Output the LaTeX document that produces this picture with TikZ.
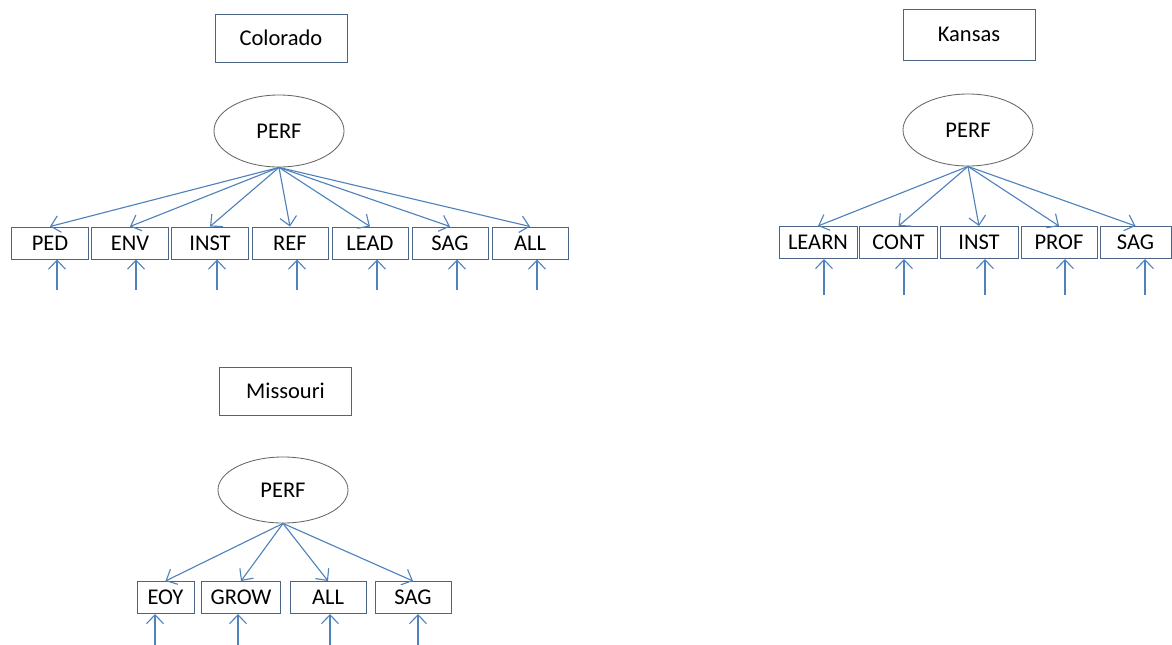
\documentclass[tikz,border=0pt]{standalone}
\usepackage{fontspec}
\setmainfont{Carlito}
\usetikzlibrary{positioning,shapes,arrows.meta}
\definecolor{arrowblue}{HTML}{4F81BD}
\definecolor{boxline}{HTML}{4A6585}

\begin{document}
\begin{tikzpicture}[x=0.025cm,y=-0.025cm,
                     font=\fontsize{16}{19}\selectfont,
                     title node/.style={rectangle,draw=boxline,line width=0.6pt,minimum width=3.3cm,minimum height=1.2cm},
                     perf node/.style={ellipse,draw=black!60,line width=0.6pt,minimum width=3.25cm,minimum height=1.8cm},
                     obs node/.style={rectangle,draw=boxline,line width=0.7pt,minimum width=1.9cm,minimum height=0.8cm,inner sep=1pt},
                     load/.style={draw=arrowblue,line width=0.8pt,-{Straight Barb[length=0.22cm,width=0.42cm]}}
                    ]
   \useasboundingbox (0,0) rectangle (1172,645);
   % Colorado
   \node[title node] (cotitle) at (281,38) {Colorado};
   \node[perf node] (coperf) at (279,131) {PERF};
   \node[obs node] (coped) at (50,243) {PED};
   \node[obs node] (coenv) at (130,243) {ENV};
   \node[obs node] (coinst) at (210,243) {INST};
   \node[obs node] (coref) at (290,243) {REF};
   \node[obs node] (colead) at (370,243) {LEAD};
   \node[obs node] (cosag) at (450,243) {SAG};
   \node[obs node] (coall) at (530,243) {ALL};
   \coordinate (coe1) at (57,290);
   \coordinate (coe2) at (136,290);
   \coordinate (coe3) at (217,290);
   \coordinate (coe4) at (297,290);
   \coordinate (coe5) at (377,290);
   \coordinate (coe6) at (457,290);
   \coordinate (coe7) at (537,290);
   \path%
     (coperf.south) edge[load] (coped.north)
     (coperf.south) edge[load] (coenv.north)
     (coperf.south) edge[load] (coinst.north)
     (coperf.south) edge[load] (coref.north)
     (coperf.south) edge[load] (colead.north)
     (coperf.south) edge[load] (cosag.north)
     (coperf.south) edge[load] (coall.north)
     (coe1) edge[load] (coe1 |- coped.south)
     (coe2) edge[load] (coe2 |- coenv.south)
     (coe3) edge[load] (coe3 |- coinst.south)
     (coe4) edge[load] (coe4 |- coref.south)
     (coe5) edge[load] (coe5 |- colead.south)
     (coe6) edge[load] (coe6 |- cosag.south)
     (coe7) edge[load] (coe7 |- coall.south);
   % Kansas
   \node[title node,minimum height=1.275cm] (kstitle) at (969,34.5) {Kansas};
   \node[perf node] (ksperf) at (968,130) {PERF};
   \node[obs node,minimum width=1.95cm] (kslearn) at (818,242.5) {LEARN};
   \node[obs node,minimum width=1.95cm] (kscont) at (898.5,242.5) {CONT};
   \node[obs node,minimum width=1.95cm] (ksinst) at (979,242.5) {INST};
   \node[obs node,minimum width=1.9cm] (ksprof) at (1059,242.5) {PROF};
   \node[obs node,minimum width=1.775cm] (kssag) at (1135.5,242.5) {SAG};
   \coordinate (kse1) at (824,295);
   \coordinate (kse2) at (904,295);
   \coordinate (kse3) at (985,295);
   \coordinate (kse4) at (1065,295);
   \coordinate (kse5) at (1145,295);
   \path%
     (ksperf.south) edge[load] (kslearn.north)
     (ksperf.south) edge[load] (kscont.north)
     (ksperf.south) edge[load] (ksinst.north)
     (ksperf.south) edge[load] (ksprof.north)
     (ksperf.south) edge[load] (kssag.north)
     (kse1) edge[load] (kse1 |- kslearn.south)
     (kse2) edge[load] (kse2 |- kscont.south)
     (kse3) edge[load] (kse3 |- ksinst.south)
     (kse4) edge[load] (kse4 |- ksprof.south)
     (kse5) edge[load] (kse5 |- kssag.south);
   % Missouri
   \node[title node] (motitle) at (285.5,391) {Missouri};
   \node[perf node,minimum height=1.65cm] (moperf) at (283,490) {PERF};
   \node[obs node,minimum width=1.425cm] (moeoy) at (165.5,597.5) {EOY};
   \node[obs node,minimum width=1.95cm] (mogrow) at (241,597.5) {GROW};
   \node[obs node] (moall) at (328,597.5) {ALL};
   \node[obs node] (mosag) at (413,597.5) {SAG};
   \coordinate (moe1) at (155,645);
   \coordinate (moe2) at (238,645);
   \coordinate (moe3) at (330,645);
   \coordinate (moe4) at (418,645);
   \path%
     (moperf.south) edge[load] (moeoy.north)
     (moperf.south) edge[load] (mogrow.north)
     (moperf.south) edge[load] (moall.north)
     (moperf.south) edge[load] (mosag.north)
     (moe1) edge[load] (moe1 |- moeoy.south)
     (moe2) edge[load] (moe2 |- mogrow.south)
     (moe3) edge[load] (moe3 |- moall.south)
     (moe4) edge[load] (moe4 |- mosag.south);
\end{tikzpicture}
\end{document}
